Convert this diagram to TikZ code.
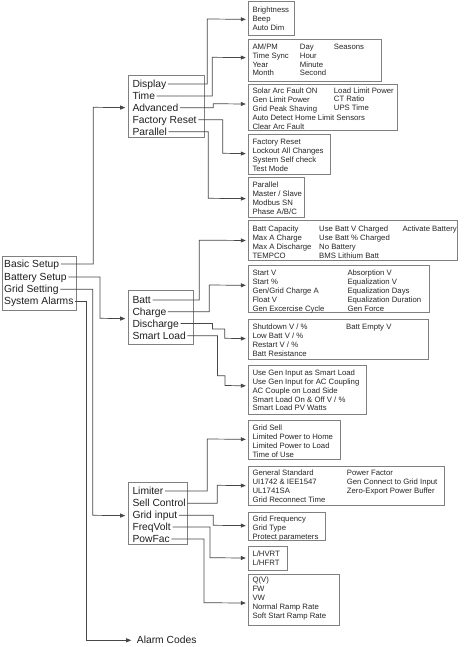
\documentclass[tikz,border=0pt]{standalone}
\usepackage{fontspec}
\setmainfont{Liberation Sans}
\usetikzlibrary{arrows.meta}
\tikzset{
 big/.style={font=\fontsize{10.3}{12}\selectfont, text=black!88, anchor=west, inner ysep=0pt, inner xsep=1.5pt, text height=0.9em, text depth=0.18em},
 small/.style={font=\fontsize{7.75}{9}\selectfont, text=black!85, anchor=west, inner sep=0pt, text height=0.9em, text depth=0.18em},
 menubox/.style={draw=black!50, line width=0.7pt, anchor=north west, inner sep=0pt},
 conn/.style={draw=black!72, line width=0.7pt, -{Triangle[length=5pt,width=4pt]}, shorten >=2.5pt},
}
\newcommand\mkbox[5]{\node[menubox, minimum width={(#4-#2)*1pt}, minimum height={(#5-#3)*1pt}] (#1) at (#2,#3) {};}
\newcommand\mkcol[4]{\foreach \itm [count=\i] in {#4} {\node[small] (#1-\i) at (#2,{#3+8.9*(\i-1)}) {\itm};}}
\begin{document}
\begin{tikzpicture}[x=1pt,y=-1pt]
\useasboundingbox[fill=white] (0,0) rectangle (463,647);
% boxes
\mkbox{main}{2}{256}{76}{310}
\mkbox{s1}{127.7}{75.3}{204.3}{137}
\mkbox{s2}{127.7}{290.3}{192.7}{343.7}
\mkbox{s3}{127.7}{482.3}{187.3}{544}
\mkbox{b1}{248.3}{1.3}{294.3}{35.3}
\mkbox{b2}{248.3}{39.3}{381}{80.7}
\mkbox{b3}{248.3}{84.3}{397}{130.3}
\mkbox{b4}{248.3}{134.3}{330}{174.3}
\mkbox{b5}{248.3}{177}{303.7}{217}
\mkbox{c1}{248.3}{220}{456.7}{260.3}
\mkbox{c2}{248.3}{265.3}{429}{311.7}
\mkbox{c3}{248.3}{319}{428.3}{359}
\mkbox{c4}{248.3}{365}{365.7}{414.3}
\mkbox{g1}{248.3}{419.7}{340.3}{459.3}
\mkbox{g2}{248.3}{465.7}{444}{505.3}
\mkbox{g3}{248.3}{511.7}{325.3}{540.3}
\mkbox{g4}{248.3}{546}{287}{569.7}
\mkbox{g5}{248.3}{574.3}{339.3}{625}
% big labels
\node[big] (bs) at (2.5,264) {Basic Setup};
\node[big] (bt) at (2.5,277) {Battery Setup};
\node[big] (gs) at (2.5,289.3) {Grid Setting};
\node[big] (sa) at (2.5,301) {System Alarms};
\node[big] (disp) at (130.8,84) {Display};
\node[big] (time) at (130.8,96) {Time};
\node[big] (adv) at (130.8,107.7) {Advanced};
\node[big] (fac) at (130.8,119.7) {Factory Reset};
\node[big] (par) at (130.8,131.7) {Parallel};
\node[big] (batt) at (130.8,300) {Batt};
\node[big] (chg) at (130.8,311.7) {Charge};
\node[big] (dis) at (130.8,323.5) {Discharge};
\node[big] (sml) at (130.8,335.7) {Smart Load};
\node[big] (lim) at (130.8,491) {Limiter};
\node[big] (sell) at (130.8,503.3) {Sell Control};
\node[big] (gin) at (130.8,515.3) {Grid input};
\node[big] (fv) at (130.8,527) {FreqVolt};
\node[big] (pf) at (130.8,539) {PowFac};
\node[big] (alarm) at (135.2,640.3) {Alarm Codes};
% box contents
\mkcol{tb1}{252.3}{9.3}{Brightness,Beep,Auto Dim}
\mkcol{tb2a}{252.3}{45.7}{AM/PM,Time Sync,Year,Month}
\mkcol{tb2b}{299.7}{45.7}{Day,Hour,Minute,Second}
\mkcol{tb2c}{333.7}{45.7}{Seasons}
\mkcol{tb3a}{252.3}{90}{Solar Arc Fault ON,Gen Limit Power,Grid Peak Shaving,Auto Detect Home Limit Sensors,Clear Arc Fault}
\mkcol{tb3b}{333.7}{89.5}{Load Limit Power,CT Ratio,UPS Time}
\mkcol{tb4}{252.3}{141}{Factory Reset,Lockout All Changes,System Self check,Test Mode}
\mkcol{tb5}{252.3}{184}{Parallel,Master / Slave,Modbus SN,Phase A/B/C}
\mkcol{tc1a}{252.3}{227.7}{Batt Capacity,Max A Charge,Max A Discharge,TEMPCO}
\mkcol{tc1b}{319}{227.7}{Use Batt V Charged,Use Batt \% Charged,No Battery,BMS Lithium Batt}
\mkcol{tc1c}{402.3}{227.7}{Activate Battery}
\mkcol{tc2a}{252.3}{272.3}{Start V,Start \%,Gen/Grid Charge A,Float V,Gen Excercise Cycle}
\mkcol{tc2b}{347.3}{272.3}{Absorption V,Equalization V,Equalization Days,Equalization Duration,Gen Force}
\mkcol{tc3a}{252.3}{325.7}{Shutdown V / \%,Low Batt V / \%,Restart V / \%,Batt Resistance}
\mkcol{tc3b}{346}{325.7}{Batt Empty V}
\mkcol{tc4}{252.3}{371.7}{Use Gen Input as Smart Load,Use Gen Input for AC Coupling,AC Couple on Load Side,Smart Load On \& Off V / \%,Smart Load PV Watts}
\mkcol{tg1}{252.3}{426.7}{Grid Sell,Limited Power to Home,Limited Power to Load,Time of Use}
\mkcol{tg2a}{252.3}{472.3}{General Standard,UI1742 \& IEE1547,UL1741SA,Grid Reconnect Time}
\mkcol{tg2b}{346.7}{472.3}{Power Factor,Gen Connect to Grid Input,Zero-Export Power Buffer}
\mkcol{tg3}{252.3}{518}{Grid Frequency,Grid Type,Protect parameters}
\mkcol{tg4}{252.3}{553}{L/HVRT,L/HFRT}
\mkcol{tg5}{252.3}{579.3}{{Q(V)},FW,VW,Normal Ramp Rate,Soft Start Ramp Rate}
% connectors: main menu
\draw[conn] (bs.east) -| (93.3,107.3) -- ([yshift=-1.15pt]s1.west);
\draw[conn] (bt.east) -| (100,318.3) -- ([yshift=-1.3pt]s2.west);
\draw[conn] (gs.east) -| (92.7,515.3) -- ([yshift=-2.15pt]s3.west);
\draw[conn, shorten >=4pt] (sa.east) -| (86,640.3) -- (alarm.west);
% basic setup
\draw[conn] (disp.east) -| (207.3,19) -- ([yshift=-0.7pt]b1.west);
\draw[conn] (time.east) -| (212.3,57.3) -- ([yshift=2.7pt]b2.west);
\draw[conn] (adv.east) -| (213.3,103.7) -- ([yshift=3.6pt]b3.west);
\draw[conn] (fac.east) -| (222.7,153.3) -- ([yshift=1pt]b4.west);
\draw[conn] (par.east) -| (208.3,198.3) -- ([yshift=-1.3pt]b5.west);
% battery setup
\draw[conn] (batt.east) -| (199.3,240.15) -- (c1.west);
\draw[conn] (chg.east) -| (209.3,285) -- ([yshift=3.5pt]c2.west);
\draw[conn] (dis.east) -| (212.5,329) -| (224.8,338.3) -- ([yshift=0.7pt]c3.west);
\draw[conn] (sml.east) -| (217.5,375.8) -| (225,385.5) -- ([yshift=4.15pt]c4.west);
% grid setting
\draw[conn] (lim.east) -| (207.3,439) -- ([yshift=0.5pt]g1.west);
\draw[conn] (sell.east) -| (217.3,485.3) -- ([yshift=0.2pt]g2.west);
\draw[conn] (gin.east) -| (213.3,525.3) -- ([yshift=0.7pt]g3.west);
\draw[conn] (fv.east) -| (210,557.7) -- ([yshift=0.15pt]g4.west);
\draw[conn] (pf.east) -| (204,602.7) -- ([yshift=-3.05pt]g5.west);
\end{tikzpicture}
\end{document}
